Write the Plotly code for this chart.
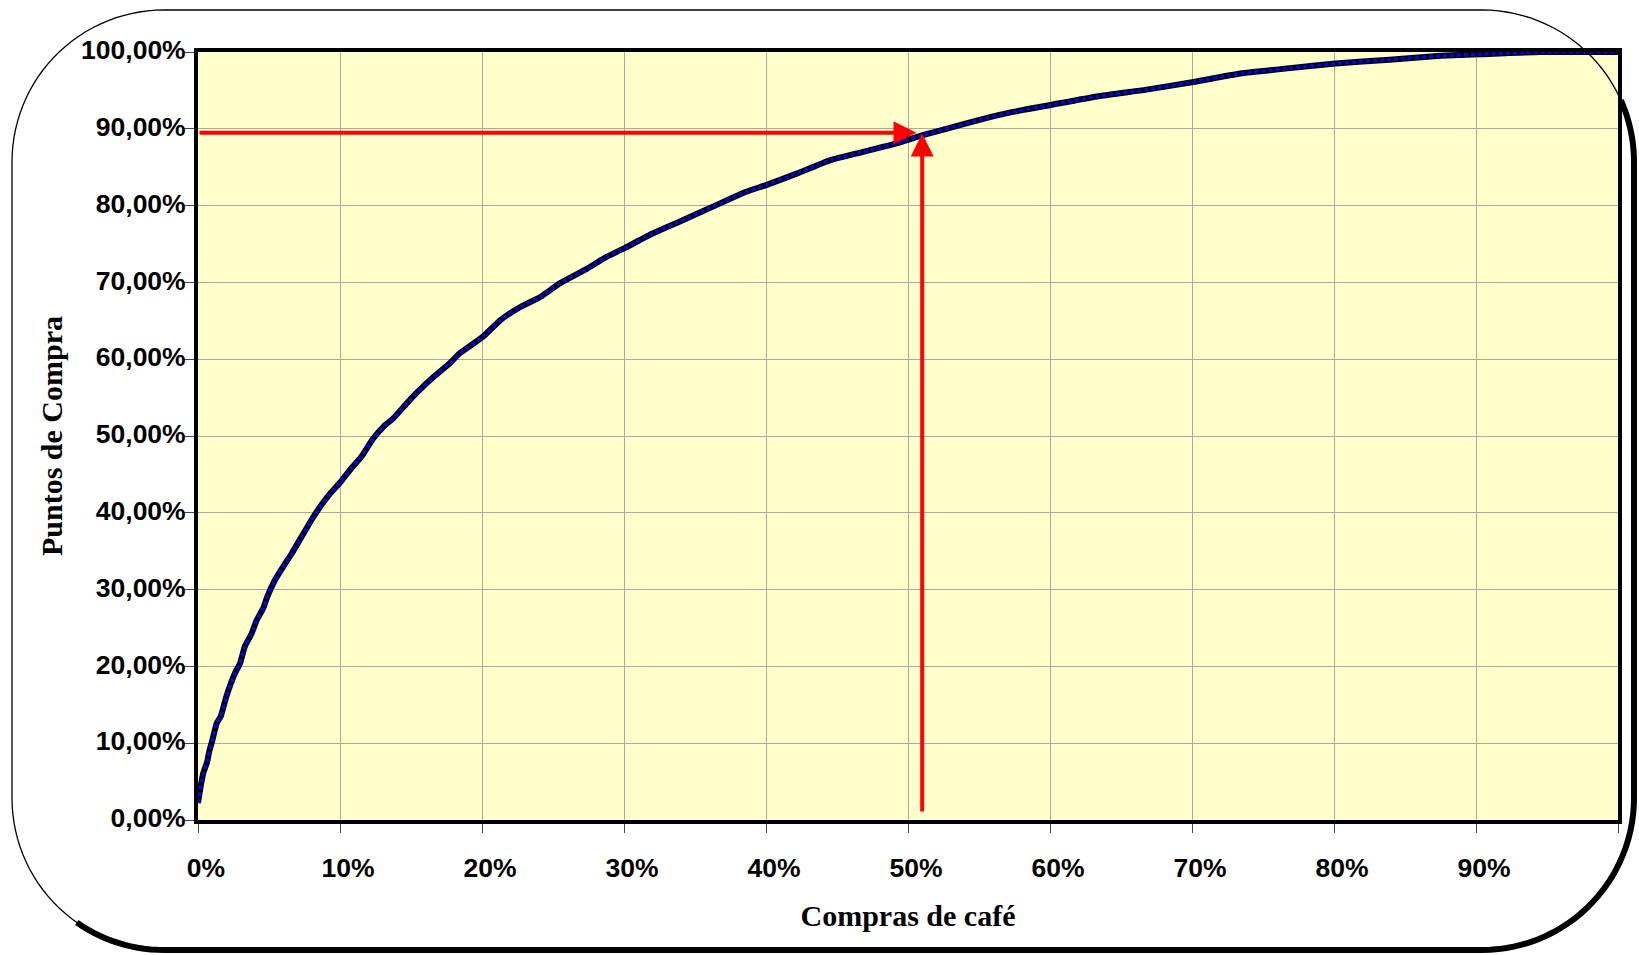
import numpy as np
import plotly.graph_objects as go

# ---------------- data ----------------
compras_pct = [0, 0.19, 0.37, 0.65, 0.8, 1.0, 1.32, 1.6, 2.0, 2.6, 2.96, 3.3, 3.78, 4.13,
               4.6, 4.84, 5.42, 6.0, 6.6, 7.3, 8.0, 8.6, 9.3, 10.05, 10.8, 11.5, 12.35,
               13.05, 13.75, 14.7, 15.5, 16.6, 17.75, 18.45, 20.05, 21.3, 22.7, 24.1,
               25.5, 27.4, 28.8, 30.07, 32.05, 33.9, 36.3, 38.6, 40.05, 42.2, 44.5,
               46.85, 49.2, 51.1, 52.7, 55.1, 57.4, 60.05, 63.3, 66.8, 70.1, 73.4, 76.9,
               80.1, 83.9, 87.5, 90.2, 94.5, 100]
puntos_pct = [2.2, 4.4, 6.1, 7.6, 9.0, 10.3, 12.6, 13.5, 16.1, 19.1, 20.4, 22.6, 24.3,
              26.0, 27.6, 28.9, 31.25, 33.0, 34.7, 36.9, 39.1, 40.8, 42.5, 44.05, 45.8,
              47.3, 49.7, 51.2, 52.3, 54.25, 55.8, 57.7, 59.5, 60.8, 62.9, 65.1, 66.8,
              68.1, 69.9, 71.8, 73.35, 74.5, 76.4, 77.9, 79.9, 81.8, 82.7, 84.2, 85.9,
              87.0, 88.1, 89.2, 90.0, 91.2, 92.2, 93.1, 94.2, 95.1, 96.1, 97.2, 97.9,
              98.5, 99.0, 99.5, 99.7, 100, 100]

x_tickvals = [0, 0.1, 0.2, 0.3, 0.4, 0.5, 0.6, 0.7, 0.8, 0.9, 1.0]
x_ticktext = ["0%", "10%", "20%", "30%", "40%", "50%", "60%", "70%", "80%", "90%", ""]
y_tickvals = [0, 0.1, 0.2, 0.3, 0.4, 0.5, 0.6, 0.7, 0.8, 0.9, 1.0]
y_ticktext = ["0,00%", "10,00%", "20,00%", "30,00%", "40,00%", "50,00%", "60,00%",
              "70,00%", "80,00%", "90,00%", "100,00%"]

# highlighted point (≈51 % of purchases -> ≈89.5 % of points)
marca_x = 0.51
marca_y = 0.895
flecha_h_tip_x = 0.506
flecha_v_tip_y = 0.894
flecha_v_base_y = 0.009

x_vals = [v / 100 for v in compras_pct]
y_vals = [v / 100 for v in puntos_pct]

# ---------------- layout geometry ----------------
W, H = 1639, 955
ML, MR, MT, MB = 198, 21, 52, 135
PW, PH = W - ML - MR, H - MT - MB


def px2paper(px, py):
    return (px - ML) / PW, (H - MB - py) / PH


def arc_pts(cx, cy, r, a0, a1, n=30):
    a = np.radians(np.linspace(a0, a1, n))
    return [(cx + r * np.cos(t), cy + r * np.sin(t)) for t in a]


def path_from(points, close=False):
    parts = []
    for i, (px, py) in enumerate(points):
        x, y = px2paper(px, py)
        parts.append(("M" if i == 0 else "L") + f"{x:.5f},{y:.5f}")
    return " ".join(parts) + (" Z" if close else "")


L0, T0, R0, B0, RAD = 12, 10, 1634, 950, 152
outline = []
outline += arc_pts(L0 + RAD, T0 + RAD, RAD, 180, 270)
outline += arc_pts(R0 - RAD, T0 + RAD, RAD, 270, 360)
outline += arc_pts(R0 - RAD, B0 - RAD, RAD, 0, 90)
outline += arc_pts(L0 + RAD, B0 - RAD, RAD, 90, 180)

shadow = []
shadow += arc_pts(R0 - RAD, T0 + RAD, RAD, 336, 360, 12)
shadow += arc_pts(R0 - RAD, B0 - RAD, RAD, 0, 90)
shadow += arc_pts(L0 + RAD, B0 - RAD, RAD, 90, 125, 15)

fig = go.Figure()

fig.add_trace(go.Scatter(x=x_vals, y=y_vals, mode="lines",
                         line=dict(color="black", width=6, shape="spline", smoothing=0.5),
                         hoverinfo="skip", showlegend=False))
fig.add_trace(go.Scatter(x=x_vals, y=y_vals, mode="lines",
                         line=dict(color="#0000FF", width=3.5, dash="4px,3px",
                                   shape="spline", smoothing=0.5),
                         showlegend=False))

fig.add_annotation(x=flecha_h_tip_x, y=marca_y, ax=0, ay=marca_y,
                   xref="x", yref="y", axref="x", ayref="y", text="",
                   showarrow=True, arrowhead=2, arrowsize=1.15, arrowwidth=4,
                   arrowcolor="#FF0000", standoff=0)
fig.add_annotation(x=marca_x, y=flecha_v_tip_y, ax=marca_x, ay=flecha_v_base_y,
                   xref="x", yref="y", axref="x", ayref="y", text="",
                   showarrow=True, arrowhead=2, arrowsize=1.15, arrowwidth=4,
                   arrowcolor="#FF0000", standoff=0)

fig.add_shape(type="path", xref="paper", yref="paper", path=path_from(outline, True),
              line=dict(color="black", width=1.3), layer="above")
fig.add_shape(type="path", xref="paper", yref="paper", path=path_from(shadow),
              line=dict(color="black", width=6), layer="above")

tick_font = dict(family="Liberation Sans, Arial, sans-serif", size=26.5, color="black", weight="bold")
title_font = dict(family="Liberation Serif, Times New Roman, serif", size=30, color="black", weight="bold")

fig.update_layout(
    width=W, height=H,
    margin=dict(l=ML, r=MR, t=MT, b=MB, pad=0),
    paper_bgcolor="white",
    plot_bgcolor="#FFFFCC",
    showlegend=False,
    xaxis=dict(range=[0, 1], tickvals=x_tickvals, ticktext=x_ticktext,
               tickfont=tick_font, ticks="outside", ticklen=9, tickcolor="#444",
               tickwidth=1, ticklabelstandoff=12, ticklabelshift=8,
               showgrid=True, gridcolor="#A8A8A8", gridwidth=1,
               showline=True, linecolor="black", linewidth=4, mirror=True,
               zeroline=False,
               title=dict(text="Compras de café", font=title_font, standoff=24)),
    yaxis=dict(range=[0, 1], tickvals=y_tickvals, ticktext=y_ticktext,
               tickfont=tick_font, ticks="outside", ticklen=10, tickcolor="#444",
               tickwidth=1, ticklabelstandoff=-7, ticklabelshift=-2,
               showgrid=True, gridcolor="#A8A8A8", gridwidth=1,
               showline=True, linecolor="black", linewidth=4, mirror=True,
               zeroline=False,
               title=dict(text="Puntos de Compra", font=title_font, standoff=11)),
)

fig.write_html("out.html", config={"displayModeBar": False},
               post_script="document.body.style.margin='0';")
